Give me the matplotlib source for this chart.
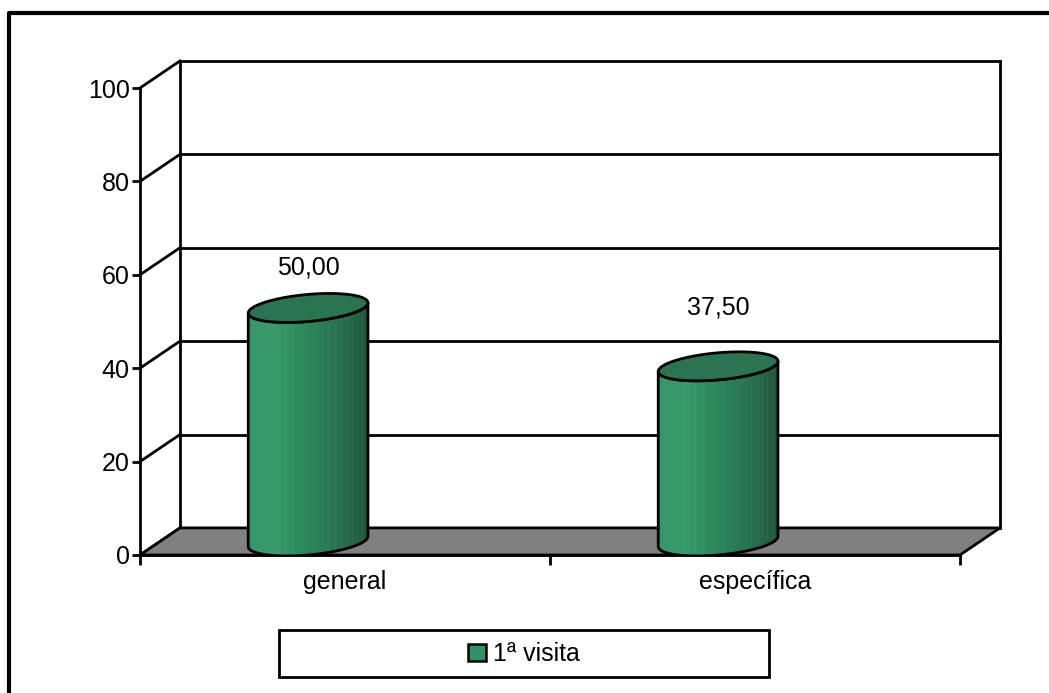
import matplotlib
matplotlib.use('Agg')
import matplotlib.pyplot as plt
import numpy as np
from matplotlib.patches import Polygon, Patch, Rectangle
from matplotlib.colors import LinearSegmentedColormap
from matplotlib.lines import Line2D

categories = ['general', 'específica']
values = [50.00, 37.50]
series_name = '1ª visita'
yticks = [0, 20, 40, 60, 80, 100]

plt.rcParams['font.family'] = ['Liberation Sans', 'DejaVu Sans']
FS = 18

W, H = 1049, 693
fig = plt.figure(figsize=(W / 100, H / 100), dpi=100)
fig.patch.set_facecolor('white')

# front plane of the 3d box: x from -0.5 to 1.5 (two categories), y 0..100
ax = fig.add_axes([140 / W, (H - 555) / H, 820 / W, 467 / H])
ax.set_xlim(-0.5, len(categories) - 0.5)
ax.set_ylim(0, 100)
ax.patch.set_alpha(0)

# oblique depth of the box, in data units
DX, DY = 0.0976, 5.8
LW = 2.0
x0, x1 = -0.5, len(categories) - 0.5

# back wall: outline and gridlines
for y in yticks:
    ax.plot([x0, x0 + DX], [y, y + DY], color='black', lw=LW, clip_on=False, zorder=2)
    if y > 0:
        ax.plot([x0 + DX, x1 + DX], [y + DY, y + DY], color='black', lw=LW,
                clip_on=False, zorder=1)
ax.plot([x0 + DX, x0 + DX], [DY, 100 + DY], color='black', lw=LW, clip_on=False, zorder=2)
ax.plot([x1 + DX, x1 + DX], [DY, 100 + DY], color='black', lw=LW, clip_on=False, zorder=2)

# floor
floor = Polygon([[x0, 0], [x1, 0], [x1 + DX, DY], [x0 + DX, DY]], closed=True,
                facecolor='#808080', edgecolor='black', lw=LW, clip_on=False, zorder=3)
ax.add_patch(floor)

# cylinders
body_cmap = LinearSegmentedColormap.from_list(
    'cyl', ['#36966a', '#3a9c6c', '#2f8c5e', '#2b8058', '#286e4c', '#22573d'])
top_color = '#2a7550'
a = 0.146      # half width
b = 2.9        # half height of the ellipses
s = 1.1        # tilt of the ellipses
shift = -0.09  # cylinder centre relative to the category slot
label_offsets = [29, 42]  # points above the top of each cylinder
t = np.linspace(np.pi, 2 * np.pi, 60)

ncol = 120
grad = np.linspace(0, 1, ncol)
stripe = np.zeros(ncol)
stripe[[3, 9, 14, 22, 30, 37, 45, 58, 66, 74, 80, 87, 93, 99, 104, 109, 114]] = 0.08
img = np.clip(grad - stripe, 0, 1)[None, :]

for i, v in enumerate(values):
    cx = i + shift
    yb = DY / 2
    yt = v + DY / 2
    bot_x = cx + a * np.cos(t)
    bot_y = yb + b * np.sin(t) + s * np.cos(t)
    top_x = cx + a * np.cos(t[::-1])
    top_y = yt + b * np.sin(t[::-1]) + s * np.cos(t[::-1])
    body = Polygon(np.column_stack([np.r_[bot_x, top_x], np.r_[bot_y, top_y]]),
                   closed=True, facecolor='none', edgecolor='black', lw=LW, zorder=6)
    ax.add_patch(body)
    im = ax.imshow(img, cmap=body_cmap, aspect='auto', interpolation='nearest',
                   extent=[cx - a, cx + a, yb - b - s, yt + b + s], zorder=5)
    im.set_clip_path(body)
    tt = np.linspace(0, 2 * np.pi, 120)
    top = Polygon(np.column_stack([cx + a * np.cos(tt),
                                   yt + b * np.sin(tt) + s * np.cos(tt)]),
                  closed=True, facecolor=top_color, edgecolor='black', lw=LW, zorder=7)
    ax.add_patch(top)
    ax.annotate(f'{v:.2f}'.replace('.', ','), xy=(cx, yt), xytext=(0, label_offsets[i]),
                textcoords='offset points', ha='center', va='center', fontsize=FS,
                zorder=8)

ax.set_xlim(x0, x1)
ax.set_ylim(0, 100)

# axes
for side in ['top', 'right']:
    ax.spines[side].set_visible(False)
for side in ['left', 'bottom']:
    ax.spines[side].set_linewidth(LW)
    ax.spines[side].set_zorder(4)
ax.set_yticks(yticks)
ax.set_yticklabels([str(y) for y in yticks], fontsize=FS)
ax.tick_params(axis='y', direction='out', length=5.8, width=LW, pad=1.5)
ax.set_xticks(np.arange(len(categories) + 1) - 0.5)
ax.set_xticklabels([])
ax.tick_params(axis='x', which='major', direction='out', length=7, width=LW)
ax.set_xticks(np.arange(len(categories)), minor=True)
ax.set_xticklabels(categories, minor=True, fontsize=FS)
ax.tick_params(axis='x', which='minor', length=0, pad=11)

# legend box
fig.patches.append(Rectangle((279 / W, (H - 677) / H), 490 / W, 47 / H,
                             transform=fig.transFigure, facecolor='white',
                             edgecolor='black', lw=LW))
fig.legend(handles=[Patch(facecolor='#2e9465', edgecolor='black', lw=1.8,
                          label=series_name)],
           loc='center', bbox_to_anchor=(524 / W, (H - 654) / H), frameon=False,
           fontsize=FS, handlelength=0.7, handleheight=0.7, handletextpad=0.3)

# outer frame
fig.lines.append(Line2D([8.5 / W, 8.5 / W, 1.0], [0, (H - 12.5) / H, (H - 12.5) / H],
                        transform=fig.transFigure, color='black', lw=3))

fig.savefig('out.png', dpi=100)
